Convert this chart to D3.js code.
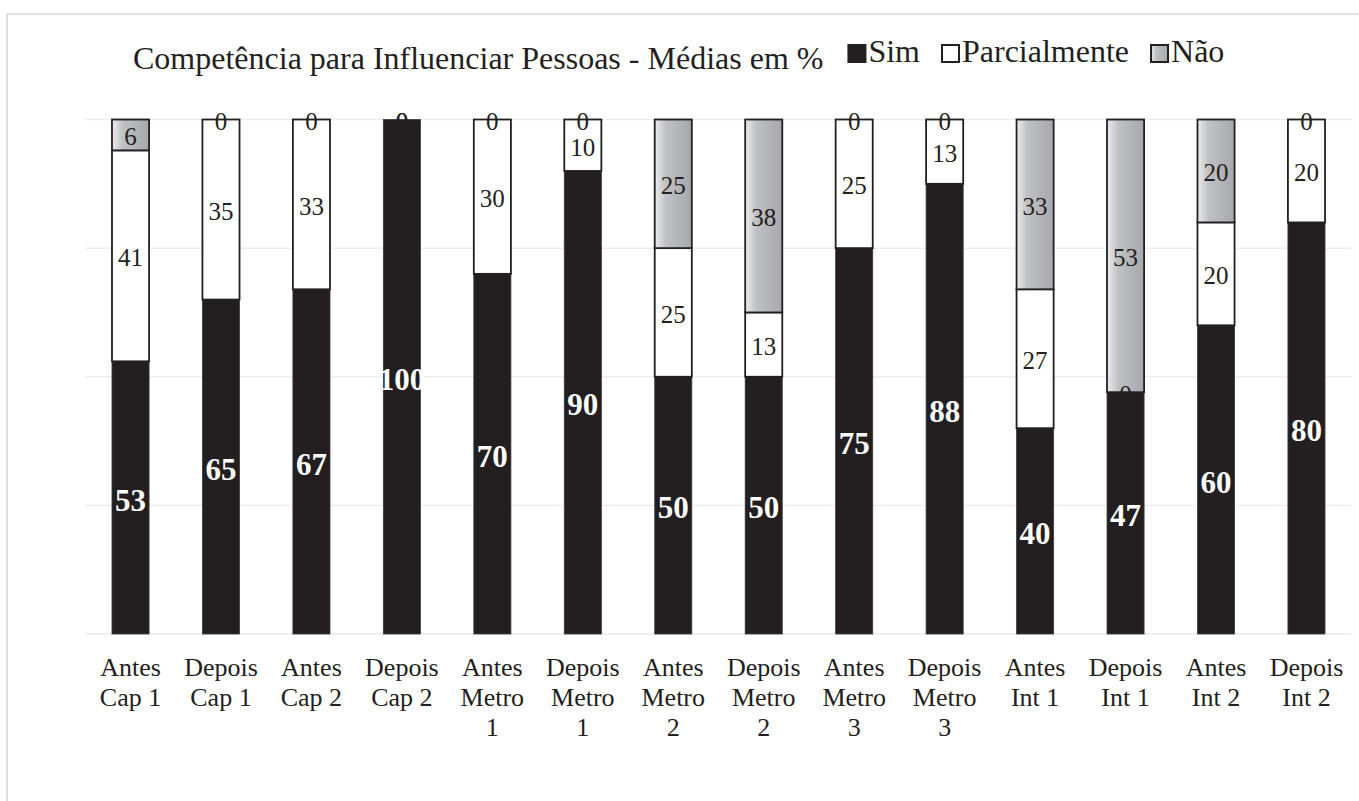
<!DOCTYPE html>
<html>
<head>
<meta charset="utf-8">
<script src="https://cdn.jsdelivr.net/npm/d3@7"></script>
<style>
  html, body { margin: 0; padding: 0; background: #ffffff; }
  svg { display: block; }
</style>
</head>
<body>
<svg id="chart" width="1359" height="801"></svg>
<script>
// ---- data ----
const categories = [
  "Antes Cap 1", "Depois Cap 1", "Antes Cap 2", "Depois Cap 2",
  "Antes Metro 1", "Depois Metro 1", "Antes Metro 2", "Depois Metro 2",
  "Antes Metro 3", "Depois Metro 3", "Antes Int 1", "Depois Int 1",
  "Antes Int 2", "Depois Int 2"
];
const seriesNames = ["Sim", "Parcialmente", "Não"];
const sim          = [53, 65, 67, 100, 70, 90, 50, 50,   75, 87.5, 40, 47, 60, 80];
const parcialmente = [41, 35, 33, 0,   30, 10, 25, 12.5, 25, 12.5, 27, 0,  20, 20];
const nao          = [6,  0,  0,  0,   0,  0,  25, 37.5, 0,  0,    33, 53, 20, 0];
const yTicks = [0, 25, 50, 75, 100];
const chartTitle = "Competência para Influenciar Pessoas - Médias em %";

// ---- setup ----
const svg = d3.select("#chart");
const ink = "#231f20";
const serif = "'Liberation Serif', 'Times New Roman', serif";

const defs = svg.append("defs");
const grad = defs.append("linearGradient").attr("id", "naoGrad")
  .attr("x1", "0%").attr("x2", "100%").attr("y1", "0%").attr("y2", "0%");
grad.append("stop").attr("offset", "0%").attr("stop-color", "#ececed");
grad.append("stop").attr("offset", "30%").attr("stop-color", "#bfc0c3");
grad.append("stop").attr("offset", "100%").attr("stop-color", "#a6a8ab");

// outer frame
svg.append("rect").attr("x", 7).attr("y", 14).attr("width", 1400).attr("height", 900)
  .attr("fill", "none").attr("stroke", "#d9d9d9").attr("stroke-width", 1.5);

const rows = categories.map((c, i) => ({
  cat: c, "Sim": sim[i], "Parcialmente": parcialmente[i], "Não": nao[i]
}));
const stacked = d3.stack().keys(seriesNames)(rows);

const x = d3.scaleBand().domain(categories).range([85.3, 1351.7])
  .paddingInner(0.59).paddingOuter(0.295);
const y = d3.scaleLinear().domain([0, 100]).range([634, 119.5]);

// gridlines
svg.append("g").selectAll("line").data(yTicks).join("line")
  .attr("x1", 85.3).attr("x2", 1351.7)
  .attr("y1", d => y(d)).attr("y2", d => y(d))
  .attr("stroke", "#ededed").attr("stroke-width", 1.5);

const fills = { "Sim": ink, "Parcialmente": "#ffffff", "Não": "url(#naoGrad)" };

// bars
const gBars = svg.append("g");
stacked.forEach(layer => {
  const key = layer.key;
  gBars.append("g").selectAll("rect").data(layer).join("rect")
    .attr("x", d => x(d.data.cat))
    .attr("width", x.bandwidth())
    .attr("y", d => y(d[1]))
    .attr("height", d => Math.max(0, y(d[0]) - y(d[1])))
    .attr("fill", fills[key])
    .attr("stroke", key === "Sim" ? "#3a3a3a" : ink)
    .attr("stroke-width", key === "Sim" ? 0.8 : 1.8);
});

// labels
const gLab = svg.append("g");
stacked.forEach(layer => {
  const key = layer.key;
  gLab.append("g").selectAll("text").data(layer).join("text")
    .attr("x", d => x(d.data.cat) + x.bandwidth() / 2)
    .attr("y", d => (y(d[0]) + y(d[1])) / 2)
    .attr("dy", "0.42em")
    .attr("text-anchor", "middle")
    .attr("font-family", serif)
    .attr("font-size", key === "Sim" ? 31 : 25)
    .attr("font-weight", key === "Sim" ? "bold" : "normal")
    .attr("fill", key === "Sim" ? "#ffffff" : ink)
    .text(d => Math.round(d.data[key]));
});

// x axis labels (wrapped)
const xLab = svg.append("g");
categories.forEach(c => {
  const words = c.split(" ");
  const t = xLab.append("text")
    .attr("text-anchor", "middle")
    .attr("font-family", serif).attr("font-size", 26).attr("fill", ink)
    .attr("x", x(c) + x.bandwidth() / 2).attr("y", 676);
  let lines = [];
  let line = [];
  const probe = xLab.append("text").attr("font-family", serif).attr("font-size", 26);
  words.forEach(w => {
    const test = line.concat([w]).join(" ");
    probe.text(test);
    if (line.length && probe.node().getComputedTextLength() > 78) {
      lines.push(line.join(" "));
      line = [w];
    } else {
      line.push(w);
    }
  });
  lines.push(line.join(" "));
  probe.remove();
  lines.forEach((l, i) => {
    t.append("tspan").attr("x", x(c) + x.bandwidth() / 2)
      .attr("dy", i === 0 ? 0 : 30).text(l);
  });
});

// title + legend
const title = svg.append("text")
  .attr("x", 133).attr("y", 69)
  .attr("font-family", serif).attr("font-size", 32).attr("fill", ink)
  .text(chartTitle);
let lx = 133 + title.node().getComputedTextLength() + 25;
const legendFills = { "Sim": ink, "Parcialmente": "#ffffff", "Não": "url(#naoGrad)" };
seriesNames.forEach(name => {
  svg.append("rect").attr("x", lx).attr("y", 45).attr("width", 17).attr("height", 17)
    .attr("fill", legendFills[name]).attr("stroke", ink).attr("stroke-width", 2);
  const t = svg.append("text").attr("x", lx + 20).attr("y", 62)
    .attr("font-family", serif).attr("font-size", 32).attr("fill", ink)
    .text(name);
  lx += 20 + t.node().getComputedTextLength() + 22;
});
</script>
</body>
</html>
